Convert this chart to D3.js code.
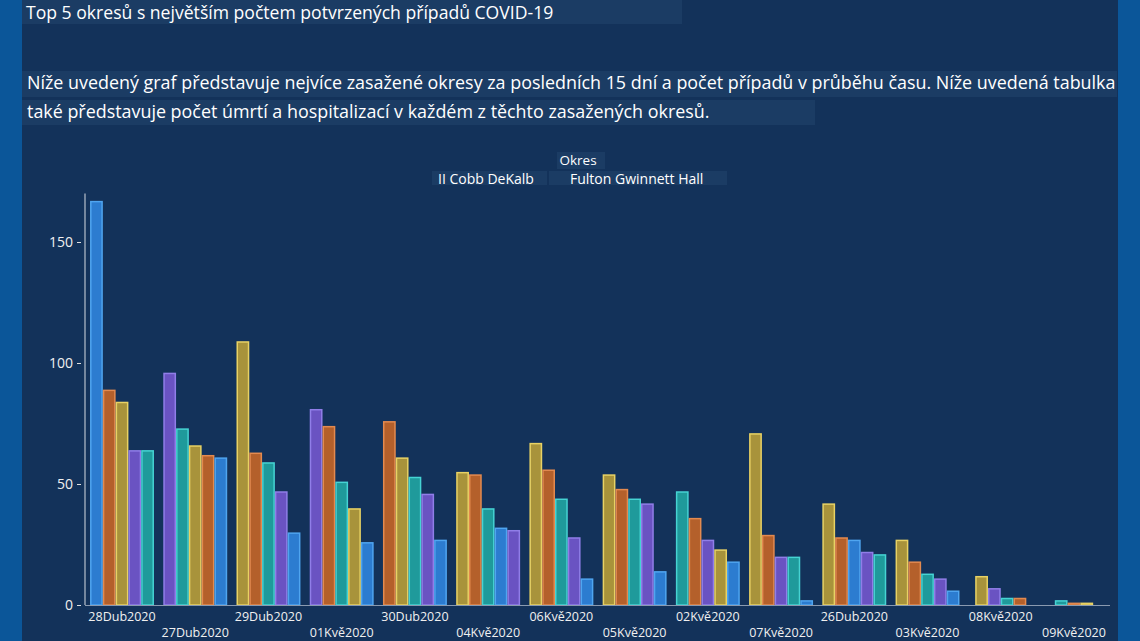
<!DOCTYPE html>
<html lang="cs">
<head>
<meta charset="utf-8">
<title>Top 5 okresů</title>
<script src="https://cdn.jsdelivr.net/npm/d3@7/dist/d3.min.js"></script>
<style>
  html, body { margin: 0; padding: 0; background: #0b5699; }
  svg { display: block; font-family: "Open Sans", "Noto Sans", sans-serif; }
</style>
</head>
<body>
<script>
// categories (already ordered by total, as in the original)
var dates = ["28Dub2020", "27Dub2020", "29Dub2020", "01Kvě2020", "30Dub2020", "04Kvě2020", "06Kvě2020",
             "05Kvě2020", "02Kvě2020", "07Kvě2020", "26Dub2020", "03Kvě2020", "08Kvě2020", "09Kvě2020"];
var counties = ["Cobb", "DeKalb", "Fulton", "Gwinnett", "Hall"];

// cases per county, one value per date above
var cobb     = [64, 96, 47, 81, 46, 31, 28, 42, 27, 20, 22, 11, 7, 0];
var dekalb   = [64, 73, 59, 51, 53, 40, 44, 44, 47, 20, 21, 13, 3, 2];
var fulton   = [89, 62, 63, 74, 76, 54, 56, 48, 36, 29, 28, 18, 3, 1];
var gwinnett = [84, 66, 109, 40, 61, 55, 67, 54, 23, 71, 42, 27, 12, 1];
var hall     = [167, 61, 30, 26, 27, 32, 11, 14, 18, 2, 27, 6, 0, 0];
var series = [cobb, dekalb, fulton, gwinnett, hall];

var yTicks = [0, 50, 100, 150];

var title = "Top 5 okresů s největším počtem potvrzených případů COVID-19";
var desc1 = "Níže uvedený graf představuje nejvíce zasažené okresy za posledních 15 dní a počet případů v průběhu času. Níže uvedená tabulka";
var desc2 = "také představuje počet úmrtí a hospitalizací v každém z těchto zasažených okresů.";

var w = 1140, h = 641;
var fills   = ["#6a53c2", "#1f9a9b", "#b4602b", "#a8933b", "#2c7cd0"];
var strokes = ["#907ee8", "#46d3d3", "#e38a4f", "#e8d264", "#4fa5f0"];

var svg = d3.select("body").append("svg").attr("width", w).attr("height", h);

// panel + side strips
svg.append("rect").attr("x", 0).attr("y", 0).attr("width", w).attr("height", h).attr("fill", "#0b5699");
svg.append("rect").attr("x", 22).attr("y", 0).attr("width", 1096).attr("height", h).attr("fill", "#13325a");

// text boxes
var boxes = [[22, 0, 660, 24], [22, 71, 1095, 26], [22, 100, 793, 25],
             [557, 152, 48, 17], [432, 171, 115, 14], [549, 171, 178, 14]];
svg.selectAll("rect.box").data(boxes).enter().append("rect")
  .attr("class", "box")
  .attr("x", function(d) { return d[0]; })
  .attr("y", function(d) { return d[1]; })
  .attr("width", function(d) { return d[2]; })
  .attr("height", function(d) { return d[3]; })
  .attr("fill", "#1b3c64");

svg.append("text").attr("x", 26).attr("y", 19).attr("font-size", "17.6px").attr("fill", "#ffffff").text(title);
svg.append("text").attr("x", 27).attr("y", 89).attr("font-size", "17.9px").attr("fill", "#ffffff").text(desc1);
svg.append("text").attr("x", 27).attr("y", 118).attr("font-size", "17.9px").attr("fill", "#ffffff").text(desc2);

// legend
svg.append("text").attr("x", 578).attr("y", 165).attr("text-anchor", "middle")
  .attr("font-size", "13.5px").attr("fill", "#ffffff").text("Okres");
svg.append("text").attr("x", 438).attr("y", 184).attr("font-size", "14px").attr("fill", "#ffffff")
  .text("II " + counties.slice(0, 2).join(" "));
svg.append("text").attr("x", 570).attr("y", 184).attr("font-size", "14px").attr("fill", "#ffffff")
  .text(counties.slice(2).join(" "));

// scales
var xScale = d3.scaleBand().domain(dates).range([85.4, 1110.6]).padding(0);
var yScale = d3.scaleLinear().domain([0, 170]).range([605, 193.6]);
var slot = xScale.bandwidth() * 0.873 / 5;

// bars: per date, non-zero values sorted high to low, centered in band
var bars = [];
dates.forEach(function(dt, i) {
  var items = [];
  series.forEach(function(s, k) { if (s[i] > 0) items.push({ k: k, v: s[i] }); });
  items.sort(function(a, b) { return b.v - a.v || a.k - b.k; });
  var x0 = xScale(dt) + xScale.bandwidth() / 2 - items.length * slot / 2;
  items.forEach(function(it, j) { bars.push({ x: x0 + j * slot, v: it.v, k: it.k }); });
});

svg.selectAll("rect.bar").data(bars).enter().append("rect")
  .attr("class", "bar")
  .attr("x", function(d) { return d.x + 0.75; })
  .attr("y", function(d) { return yScale(d.v) + 0.75; })
  .attr("width", slot - 1.5)
  .attr("height", function(d) { return Math.max(0, yScale(0) - yScale(d.v) - 0.75); })
  .attr("fill", function(d) { return fills[d.k]; })
  .attr("stroke", function(d) { return strokes[d.k]; })
  .attr("stroke-width", 1.5);

// axes
svg.append("line").attr("x1", 85).attr("x2", 85).attr("y1", yScale(170)).attr("y2", yScale(0))
  .attr("stroke", "#b8c0cc").attr("stroke-width", 1.2);
svg.append("line").attr("x1", 85).attr("x2", 1110).attr("y1", yScale(0) + 0.5).attr("y2", yScale(0) + 0.5)
  .attr("stroke", "#8a9ab0").attr("stroke-width", 1.2);

var yAxis = svg.append("g").attr("transform", "translate(81,0)")
  .call(d3.axisLeft(yScale).tickValues(yTicks).tickSize(4).tickPadding(4));
yAxis.select(".domain").remove();
yAxis.selectAll("line").attr("stroke", "#e0e0e0");
yAxis.selectAll("text").attr("fill", "#f0f0f0").attr("font-size", "14px")
  .attr("font-family", "Open Sans, Noto Sans, sans-serif");

// x labels, alternating two rows
svg.selectAll("text.xlab").data(dates).enter().append("text")
  .attr("class", "xlab")
  .attr("x", function(d) { return xScale(d) + xScale.bandwidth() / 2; })
  .attr("y", function(d, i) { return i % 2 === 0 ? 621 : 637; })
  .attr("text-anchor", "middle")
  .attr("font-size", "12.5px")
  .attr("fill", "#f0f0f0")
  .text(function(d) { return d; });
</script>
</body>
</html>
